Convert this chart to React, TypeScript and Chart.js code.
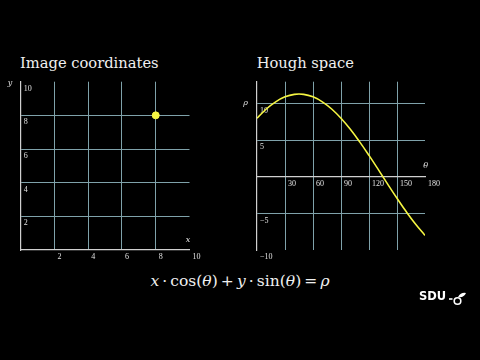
import React, { useEffect, useRef } from "react";
import { Chart, registerables } from "chart.js";

Chart.register(...registerables);

// ---- data ----
const imageXTicks = [2, 4, 6, 8, 10];
const imageYTicks = [2, 4, 6, 8, 10];
const pointX = [8];
const pointY = [8];

const thetaDeg = [0, 10, 20, 30, 40, 50, 60, 70, 80, 90, 100, 110, 120, 130, 140, 150, 160, 170, 180];
const rhoValues = [8.0, 9.27, 10.25, 10.93, 11.27, 11.27, 10.93, 10.25, 9.27, 8.0, 6.49, 4.78, 2.93, 0.99, -0.99, -2.93, -4.78, -6.49, -8.0];
const thetaTicks = [30, 60, 90, 120, 150, 180];
const rhoTicks = [-10, -5, 5, 10];

// ---- style ----
const GRID = "#7fa2aa";
const AXIS = "#d0d0d0";
const TICK = "#e0e0e0";
const YELLOW = "#f5f542";
const tickFont = { family: "'Liberation Serif', serif", size: 8 };

const fmt = (v: number) => (v < 0 ? "\u2212" + Math.abs(v) : String(v));
const setTicks = (vals: number[]) => (scale: any) => {
  scale.ticks = vals.map((v) => ({ value: v }));
};

function useChart(ref: React.RefObject<HTMLCanvasElement>, build: () => any) {
  useEffect(() => {
    if (!ref.current) return;
    const chart = new Chart(ref.current, build());
    return () => chart.destroy();
  }, []);
}

function ImageChart() {
  const ref = useRef<HTMLCanvasElement>(null);
  useChart(ref, () => ({
    type: "scatter",
    data: {
      datasets: [
        {
          data: pointX.map((x, i) => ({ x, y: pointY[i] })),
          backgroundColor: YELLOW,
          borderColor: YELLOW,
          pointRadius: 3.5,
        },
      ],
    },
    options: {
      responsive: false,
      animation: false,
      layout: { padding: { left: 20.7, top: 11.7, right: 50.5, bottom: 20 } },
      plugins: { legend: { display: false }, tooltip: { enabled: false } },
      scales: {
        x: {
          type: "linear",
          min: 0,
          max: 10,
          position: { y: 0 },
          afterBuildTicks: setTicks(imageXTicks),
          afterFit: (s: any) => { s.height = 0; },
          grid: {
            color: (c: any) => (c.tick && c.tick.value === 10 ? "rgba(0,0,0,0)" : GRID),
            lineWidth: 1,
            drawTicks: false,
          },
          border: { color: AXIS, width: 1.2 },
          ticks: {
            autoSkip: false, maxRotation: 0, align: "start", labelOffset: 3, padding: 2,
            color: TICK, font: tickFont, callback: (v: any) => fmt(v),
          },
        },
        y: {
          type: "linear",
          min: 0,
          max: 10,
          afterBuildTicks: setTicks(imageYTicks),
          afterFit: (s: any) => { s.width = 0; },
          grid: {
            color: (c: any) => (c.tick && c.tick.value === 10 ? "rgba(0,0,0,0)" : GRID),
            lineWidth: 1,
            drawTicks: false,
          },
          border: { color: AXIS, width: 1.2 },
          ticks: {
            autoSkip: false, mirror: true, padding: 3, labelOffset: 7,
            color: TICK, font: tickFont, callback: (v: any) => fmt(v),
          },
        },
      },
    },
  }));
  return (
    <canvas
      ref={ref}
      width={240}
      height={200}
      style={{ position: "absolute", left: 0, top: 70, width: 240, height: 200 }}
    />
  );
}

function HoughChart() {
  const ref = useRef<HTMLCanvasElement>(null);
  useChart(ref, () => ({
    type: "scatter",
    data: {
      datasets: [
        {
          data: thetaDeg.map((t, i) => ({ x: t, y: rhoValues[i] })),
          showLine: true,
          borderColor: YELLOW,
          borderWidth: 1.6,
          pointRadius: 0,
          tension: 0.4,
          fill: false,
        },
      ],
    },
    options: {
      responsive: false,
      animation: false,
      layout: { padding: { left: 17, top: 11.7, right: 55, bottom: 20 } },
      plugins: { legend: { display: false }, tooltip: { enabled: false } },
      scales: {
        x: {
          type: "linear",
          min: 0,
          max: 180,
          position: { y: 0 },
          afterBuildTicks: setTicks(thetaTicks),
          afterFit: (s: any) => { s.height = 0; },
          grid: {
            color: (c: any) => (c.tick && c.tick.value === 180 ? "rgba(0,0,0,0)" : GRID),
            lineWidth: 1,
            drawTicks: false,
          },
          border: { color: AXIS, width: 1.2 },
          ticks: {
            autoSkip: false, maxRotation: 0, align: "start", labelOffset: 3, padding: 2,
            color: TICK, font: tickFont, callback: (v: any) => fmt(v),
          },
        },
        y: {
          type: "linear",
          min: -10,
          max: 13,
          afterBuildTicks: setTicks(rhoTicks),
          afterFit: (s: any) => { s.width = 0; },
          grid: {
            color: (c: any) => (c.tick && c.tick.value === -10 ? "rgba(0,0,0,0)" : GRID),
            lineWidth: 1,
            drawTicks: false,
          },
          border: { color: AXIS, width: 1.2 },
          ticks: {
            autoSkip: false, mirror: true, padding: 3, labelOffset: 7,
            color: TICK, font: tickFont, callback: (v: any) => fmt(v),
          },
        },
      },
    },
  }));
  return (
    <canvas
      ref={ref}
      width={240}
      height={200}
      style={{ position: "absolute", left: 240, top: 70, width: 240, height: 200 }}
    />
  );
}

const serif = "'DejaVu Serif', serif";

function Var({ x, y, children }: { x: number; y: number; children: React.ReactNode }) {
  return (
    <span
      style={{
        position: "absolute", left: x, top: y, transform: "translate(-50%, -50%)",
        fontFamily: serif, fontStyle: "italic", fontSize: 8, color: "#e0e0e0", lineHeight: 1,
      }}
    >
      {children}
    </span>
  );
}

export default function App() {
  const titleStyle: React.CSSProperties = {
    position: "absolute", top: 56, fontFamily: serif, fontSize: 14.7, lineHeight: 1,
    color: "#f0f0f0", whiteSpace: "nowrap",
  };
  const it: React.CSSProperties = { fontStyle: "italic" };
  return (
    <div
      style={{
        position: "fixed", left: 0, top: 0, width: 480, height: 360,
        background: "#000", overflow: "hidden",
      }}
    >
      <div style={{ ...titleStyle, left: 20 }}>Image coordinates</div>
      <div style={{ ...titleStyle, left: 256.7 }}>Hough space</div>
      <ImageChart />
      <HoughChart />
      <Var x={10} y={82.7}>y</Var>
      <Var x={188} y={240}>x</Var>
      <Var x={245.7} y={103.3}>ρ</Var>
      <Var x={425.7} y={165.7}>θ</Var>
      <div
        style={{
          position: "absolute", left: 0, width: 480, top: 274, textAlign: "center",
          fontFamily: serif, fontSize: 15.5, lineHeight: 1, color: "#f0f0f0", whiteSpace: "nowrap",
        }}
      >
        <span style={it}>x</span>{"\u2009·\u2009"}cos(<span style={it}>θ</span>){"\u2009+\u2009"}
        <span style={it}>y</span>{"\u2009·\u2009"}sin(<span style={it}>θ</span>){"\u2009=\u2009"}
        <span style={it}>ρ</span>
      </div>
      <div
        style={{
          position: "absolute", left: 419, top: 291, fontFamily: "'DejaVu Sans', sans-serif",
          fontWeight: "bold", fontSize: 11.5, lineHeight: 1, color: "#fff",
        }}
      >
        SDU
      </div>
      <svg
        width={20}
        height={16}
        viewBox="0 0 20 16"
        style={{ position: "absolute", left: 448, top: 291 }}
      >
        <line x1={1} y1={8} x2={4.5} y2={8} stroke="#fff" strokeWidth={1.6} />
        <circle cx={9.5} cy={10} r={3.3} fill="none" stroke="#fff" strokeWidth={1.6} />
        <path d="M10 6 Q13 1 18 2 Q16 7 10 6 Z" fill="#fff" />
      </svg>
    </div>
  );
}
